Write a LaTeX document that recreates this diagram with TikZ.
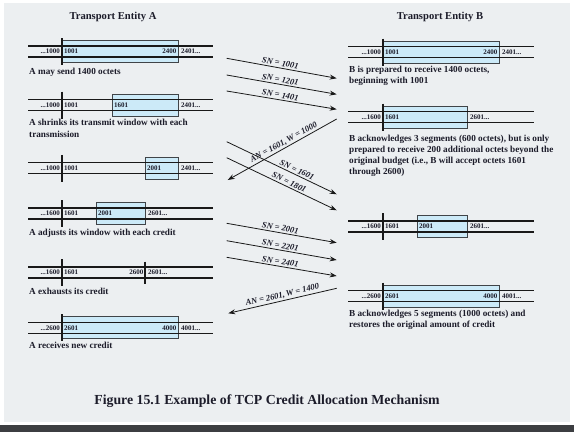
\documentclass[tikz,border=0pt]{standalone}
\usepackage{fontspec}
\setmainfont{Liberation Serif}
\usetikzlibrary{arrows.meta}
\definecolor{panel}{HTML}{ECEFF1}
\definecolor{winblue}{HTML}{CCEAF8}
\definecolor{winedge}{HTML}{404448}
\definecolor{txt}{HTML}{1C1C2A}
\definecolor{band}{HTML}{3C3E41}
\newcommand{\cnumfont}{\fontsize{7}{8}\selectfont\bfseries}
\newcommand{\ccapfont}{\fontsize{9.2}{11}\selectfont\bfseries}
\newcommand{\cmsgfont}{\fontsize{8.5}{10}\selectfont\bfseries\itshape}
\newcommand{\ctitlefont}{\fontsize{10.6}{12}\selectfont\bfseries}
\newcommand{\crails}[3]{\draw[rail] (#1,#3-5.5) -- (#2,#3-5.5) (#1,#3+5.5) -- (#2,#3+5.5);}
\newcommand{\cwin}[3]{\draw[win] (#1,#3-11) rectangle (#2,#3+11);}
\newcommand{\ctick}[3]{\draw[tickline] (#1,#3-#2) -- (#1,#3+#2);}
\tikzset{
  rail/.style={line width=1.1pt, draw=black!90},
  win/.style={fill=winblue, draw=winedge, line width=0.9pt},
  tickline/.style={line width=1.3pt, draw=black!90},
  num/.style={font=\cnumfont, inner sep=0pt, text=txt},
  numE/.style={num, anchor=base east, yshift=-2.4pt},
  numW/.style={num, anchor=base west, yshift=-2.4pt},
  captext/.style={font=\ccapfont, inner sep=0pt, anchor=base west, yshift=-3pt, text=txt},
  ttl/.style={font=\ctitlefont, inner sep=0pt, text=txt},
  msg/.style={line width=0.8pt, draw=black!90, -{Stealth[length=7pt,width=5pt]}},
  msgback/.style={line width=0.8pt, draw=black!90, {Stealth[length=7pt,width=5pt]}-},
  mlab/.style={font=\cmsgfont, sloped, above, inner sep=1.5pt, text=txt},
}
\begin{document}
\begin{tikzpicture}[x=1pt,y=-1pt]
\useasboundingbox (0,0) rectangle (574,432);
\fill[white] (0,0) rectangle (574,432);
\fill[panel] (4,3) rectangle (570,422);
\fill[band] (0,425) rectangle (574,432);

% titles
\node[ttl] (tA) at (113,17) {Transport Entity A};
\node[ttl] (tB) at (440,17) {Transport Entity B};

% ---------- Entity A ----------
% A1
\cwin{62}{178}{51.5}\crails{28}{213}{51.5}\ctick{62}{13.5}{51.5}
\node[numE] (a1a) at (60,51.5) {...1000};
\node[numW] (a1b) at (64,51.5) {1001};
\node[numE] (a1c) at (176.5,51.5) {2400};
\node[numW] (a1d) at (181,51.5) {2401...};
\node[captext] (ca1) at (29,71) {A may send 1400 octets};
% A2
\cwin{112}{178}{105}\crails{28}{213}{105}\ctick{62}{13.5}{105}
\node[numE] (a2a) at (60,105) {...1000};
\node[numW] (a2b) at (64,105) {1001};
\node[numW] (a2c) at (114,105) {1601};
\node[numW] (a2d) at (181,105) {2401...};
\node[captext] (ca2a) at (29,122.7) {A shrinks its transmit window with each};
\node[captext] (ca2b) at (29,134.3) {transmission};
% A3
\cwin{145}{178}{168.3}\crails{28}{213}{168.3}\ctick{62}{13.5}{168.3}
\node[numE] (a3a) at (60,168.3) {...1000};
\node[numW] (a3b) at (64,168.3) {1001};
\node[numW] (a3c) at (147,168.3) {2001};
\node[numW] (a3d) at (181,168.3) {2401...};
% A4
\cwin{96}{145}{213.5}\crails{28}{213}{213.5}\ctick{62}{13.5}{213.5}
\node[numE] (a4a) at (60,213.5) {...1600};
\node[numW] (a4b) at (64,213.5) {1601};
\node[numW] (a4c) at (98,213.5) {2001};
\node[numW] (a4d) at (148,213.5) {2601...};
\node[captext] (ca4) at (29,232.5) {A adjusts its window with each credit};
% A5
\crails{28}{213}{272.5}\ctick{62}{13.5}{272.5}\ctick{145}{11}{272.5}
\node[numE] (a5a) at (60,272.5) {...1600};
\node[numW] (a5b) at (64,272.5) {1601};
\node[numE] (a5c) at (143.5,272.5) {2600};
\node[numW] (a5d) at (148,272.5) {2601...};
\node[captext] (ca5) at (29,291.5) {A exhausts its credit};
% A6
\cwin{62}{178}{327.8}\crails{28}{213}{327.8}\ctick{62}{13.5}{327.8}
\node[numE] (a6a) at (60,327.8) {...2600};
\node[numW] (a6b) at (64,327.8) {2601};
\node[numE] (a6c) at (176.5,327.8) {4000};
\node[numW] (a6d) at (181,327.8) {4001...};
\node[captext] (ca6) at (29,345) {A receives new credit};

% ---------- Entity B ----------
% B1
\cwin{383}{499}{52}\crails{348}{534}{52}\ctick{383}{13.5}{52}
\node[numE] (b1a) at (381,52) {...1000};
\node[numW] (b1b) at (385,52) {1001};
\node[numE] (b1c) at (497.5,52) {2400};
\node[numW] (b1d) at (502,52) {2401...};
\node[captext] (cb1a) at (349,69.5) {B is prepared to receive 1400 octets,};
\node[captext] (cb1b) at (349,80.5) {beginning with 1001};
% B2
\cwin{383}{467}{117.2}\crails{348}{534}{117.2}\ctick{383}{13.5}{117.2}
\node[numE] (b2a) at (381,117.2) {...1600};
\node[numW] (b2b) at (385,117.2) {1601};
\node[numW] (b2d) at (470,117.2) {2601...};
\node[captext] (cb2a) at (349,138.5) {B acknowledges 3 segments (600 octets), but is only};
\node[captext] (cb2b) at (349,149.5) {prepared to receive 200 additional octets beyond the};
\node[captext] (cb2c) at (349,160.5) {original budget (i.e., B will accept octets 1601};
\node[captext] (cb2d) at (349,171.5) {through 2600)};
% B3
\cwin{417}{467}{226.5}\crails{348}{534}{226.5}\ctick{383}{13.5}{226.5}
\node[numE] (b3a) at (381,226.5) {...1600};
\node[numW] (b3b) at (385,226.5) {1601};
\node[numW] (b3c) at (419,226.5) {2001};
\node[numW] (b3d) at (470,226.5) {2601...};
% B4
\cwin{383}{499}{296}\crails{348}{534}{296}\ctick{383}{13.5}{296}
\node[numE] (b4a) at (381,296) {...2600};
\node[numW] (b4b) at (385,296) {2601};
\node[numE] (b4c) at (497.5,296) {4000};
\node[numW] (b4d) at (502,296) {4001...};
\node[captext] (cb4a) at (349,313.7) {B acknowledges 5 segments (1000 octets) and};
\node[captext] (cb4b) at (349,324.5) {restores the original amount of credit};

% ---------- messages ----------
\coordinate (m1s) at (226.7,58.3);  \coordinate (m1e) at (336.7,78.3);
\coordinate (m2s) at (226.7,75);    \coordinate (m2e) at (336.7,94.3);
\coordinate (m3s) at (226.7,91);    \coordinate (m3e) at (336.7,109.3);
\coordinate (k1l) at (227.7,180);   \coordinate (k1r) at (336.7,119);
\coordinate (m4s) at (226.7,141.7); \coordinate (m4e) at (336.7,194.3);
\coordinate (m5s) at (226.7,157.7); \coordinate (m5e) at (336.7,210.3);
\coordinate (m6s) at (226.7,223.3); \coordinate (m6e) at (336.7,242.7);
\coordinate (m7s) at (226.7,240.7); \coordinate (m7e) at (336.7,260);
\coordinate (m8s) at (226.7,257.3); \coordinate (m8e) at (336.7,276);
\coordinate (k2l) at (228.3,313.3); \coordinate (k2r) at (336.7,288.3);

\draw[msg] (m1s) -- node[mlab,pos=0.48] (l1) {SN = 1001} (m1e);
\draw[msg] (m2s) -- node[mlab,pos=0.48] (l2) {SN = 1201} (m2e);
\draw[msg] (m3s) -- node[mlab,pos=0.48] (l3) {SN = 1401} (m3e);
\draw[msgback] (k1l) -- node[mlab,pos=0.54] (lk1) {AN = 1601,\,W = 1000} (k1r);
\draw[msg] (m4s) -- node[mlab,pos=0.62] (l4) {SN = 1601} (m4e);
\draw[msg] (m5s) -- node[mlab,pos=0.55] (l5) {SN = 1801} (m5e);
\draw[msg] (m6s) -- node[mlab,pos=0.48] (l6) {SN = 2001} (m6e);
\draw[msg] (m7s) -- node[mlab,pos=0.48] (l7) {SN = 2201} (m7e);
\draw[msg] (m8s) -- node[mlab,pos=0.48] (l8) {SN = 2401} (m8e);
\draw[msgback] (k2l) -- node[mlab,pos=0.51] (lk2) {AN = 2601,\,W = 1400} (k2r);

% figure caption
\node[font=\fontsize{13.8}{16}\selectfont\bfseries, inner sep=0pt, text=txt, anchor=base, yshift=-4.5pt] (fig) at (267,400) {Figure 15.1 Example of TCP Credit Allocation Mechanism};
\end{tikzpicture}
\end{document}
